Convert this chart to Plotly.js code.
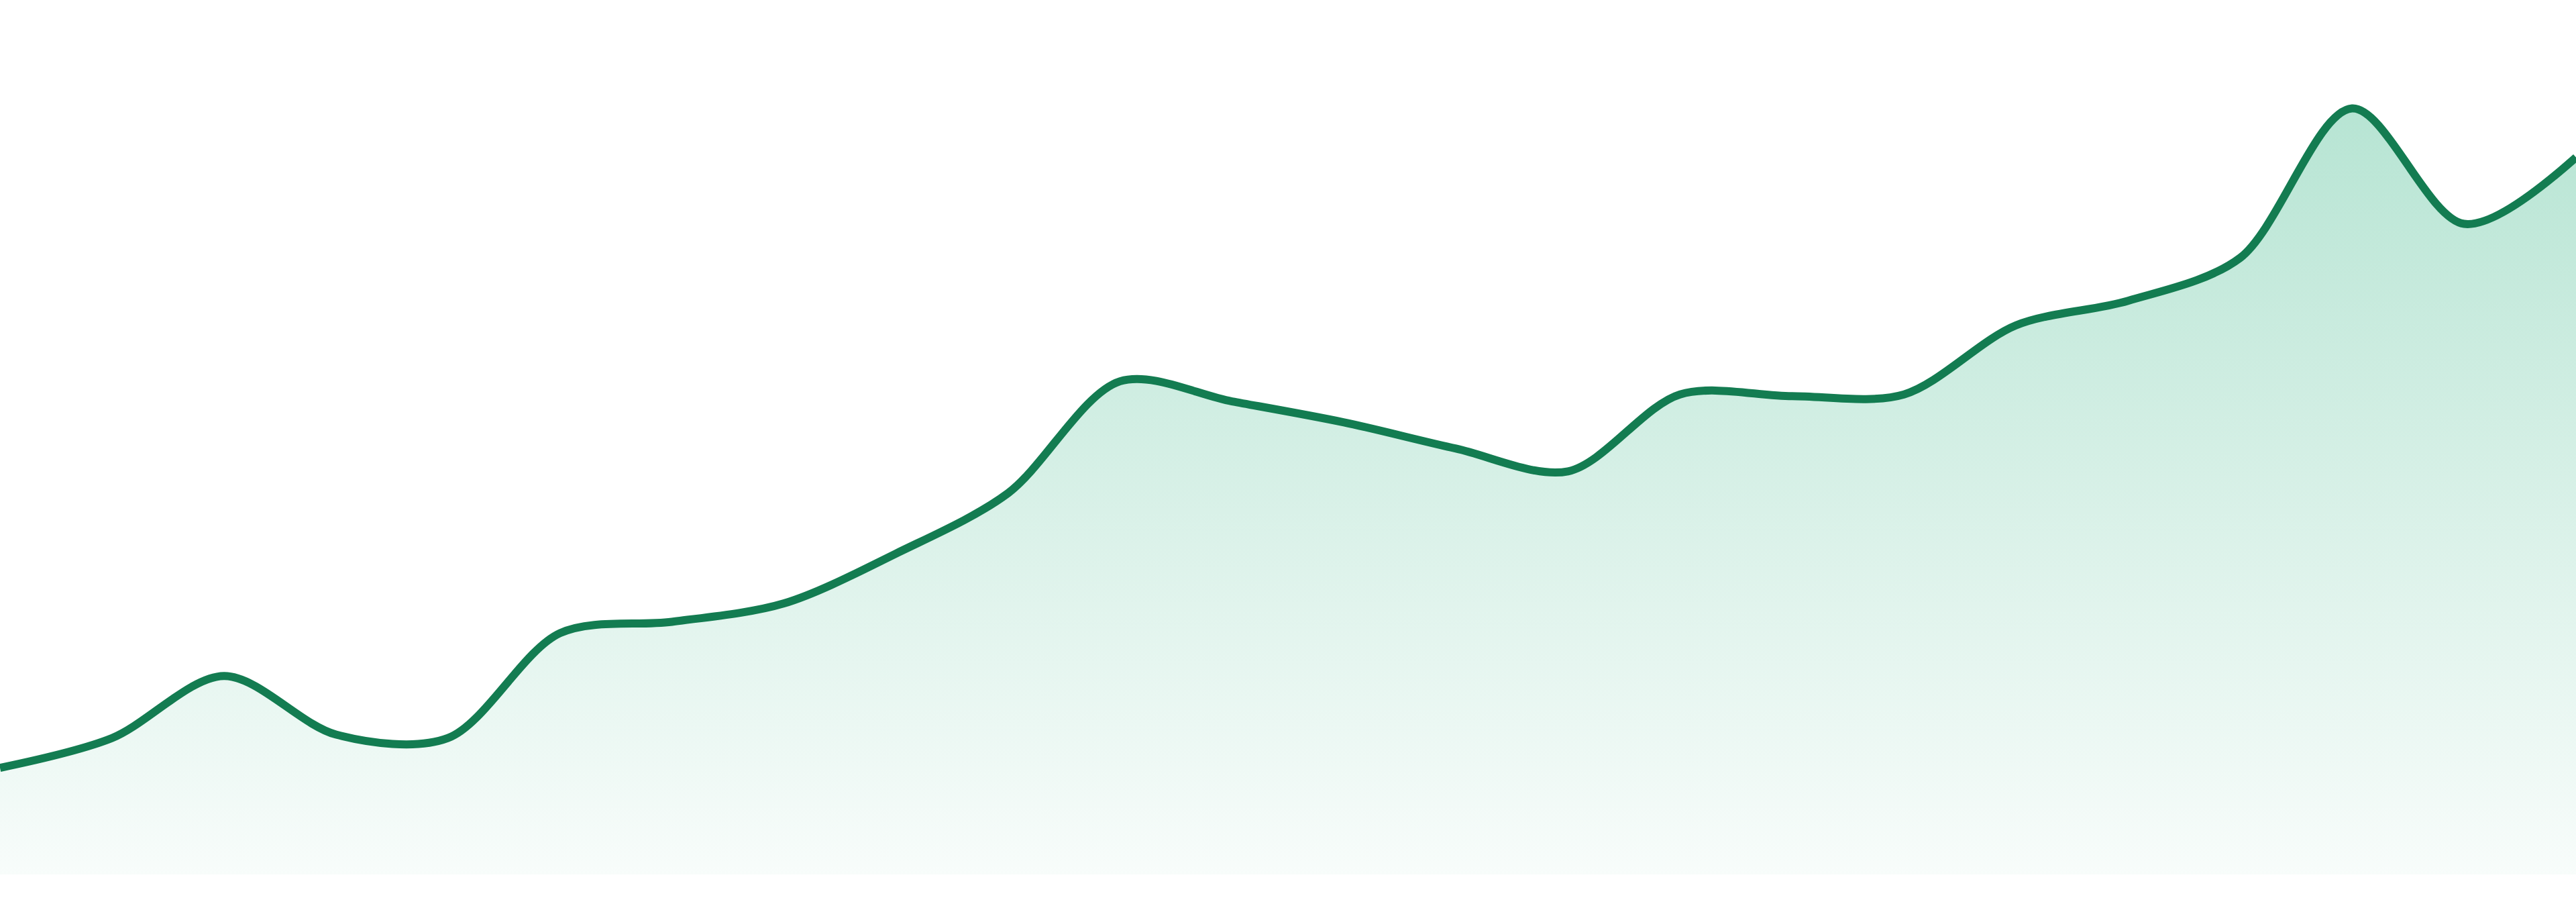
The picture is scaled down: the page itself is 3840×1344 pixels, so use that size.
<!DOCTYPE html>
<html>
<head>
<meta charset="utf-8">
<script src="https://cdn.plot.ly/plotly-3.0.1.min.js"></script>
<style>
  html, body { margin: 0; padding: 0; background: #ffffff; }
  #chart { width: 3840px; height: 1344px; }
</style>
</head>
<body>
<div id="chart"></div>
<script>
// --- data (24 evenly spaced samples) ---
const steps = [0, 1, 2, 3, 4, 5, 6, 7, 8, 9, 10, 11, 12, 13, 14, 15, 16, 17, 18, 19, 20, 21, 22, 23];
const values = [12.2, 15.6, 22.7, 16.0, 15.6, 27.6, 28.9, 31.0, 36.7, 43.6, 56.4, 54.1,
                51.7, 48.7, 46.1, 54.9, 54.7, 54.9, 62.8, 65.6, 70.5, 87.6, 74.4, 82.0];

const lineColor = '#137c51';

const trace = {
    x: steps,
    y: values,
    type: 'scatter',
    mode: 'lines',
    fill: 'tozeroy',
    fillgradient: {
        type: 'vertical',
        start: 0,
        stop: 100,
        colorscale: [
            [0, 'rgba(16,167,110,0.03)'],
            [1, 'rgba(16,167,110,0.34)']
        ]
    },
    line: { color: lineColor, width: 12, shape: 'spline', smoothing: 0.9 },
    hoverinfo: 'skip'
};

const layout = {
    width: 3840,
    height: 1344,
    margin: { t: 0, r: 0, b: 41, l: 0 },
    paper_bgcolor: '#ffffff',
    plot_bgcolor: '#ffffff',
    showlegend: false,
    xaxis: { range: [0, 23], visible: false, fixedrange: true },
    yaxis: { range: [0, 100], visible: false, fixedrange: true }
};

Plotly.newPlot('chart', [trace], layout, { staticPlot: true, displayModeBar: false });
</script>
</body>
</html>
